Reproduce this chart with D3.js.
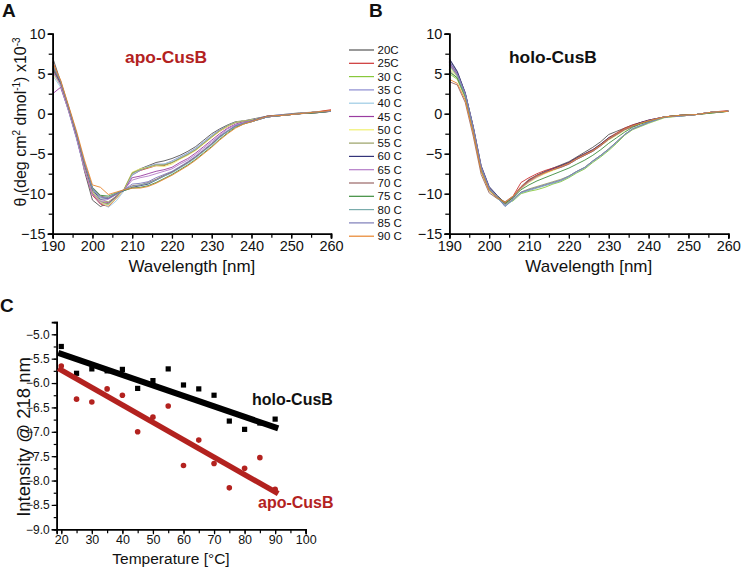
<!DOCTYPE html>
<html><head><meta charset="utf-8">
<script src="https://cdn.jsdelivr.net/npm/d3@7"></script>
<style>body{margin:0;background:#fff}svg{display:block}text{font-family:"Liberation Sans",Arial,sans-serif}</style>
</head><body>
<svg id="c" width="743" height="568"></svg>
<script>
// ---------- DATA ----------
const wavelengths = [190,192,194,196,198,200,202,204,206,208,210,212,214,216,218,220,222,224,226,228,230,232,234,236,238,240,244,248,252,256,260];
const temps = ["20C","25C","30 C","35 C","40 C","45 C","50 C","55 C","60 C","65 C","70 C","75 C","80 C","85 C","90 C"];
const seriesColors = ["#555555","#cc3333","#88c83c","#8c8cd0","#9ccbe4","#9a3ca0","#f0f070","#98a064","#34347a","#b47cc8","#9a6666","#3c8c3c","#7aacac","#7c7cb8","#e8842c"];
const apoSpectra = [
 [7.0,4.0,0.6,-2.8,-7.2,-10.8,-11.6,-11.2,-10.3,-9.4,-7.4,-6.9,-6.5,-6.1,-5.9,-5.6,-5.2,-4.7,-4.1,-3.3,-2.5,-1.9,-1.4,-1.0,-0.9,-0.7,-0.3,-0.1,0.1,0.2,0.4],
 [6.5,3.8,0.5,-2.9,-7.0,-10.2,-11.3,-11.6,-10.6,-9.5,-7.6,-7.1,-6.8,-6.5,-6.5,-6.1,-5.6,-5.1,-4.5,-3.7,-2.9,-2.2,-1.6,-1.1,-0.9,-0.8,-0.4,-0.2,0.0,0.2,0.5],
 [5.8,3.7,0.5,-3.0,-6.8,-9.9,-11.0,-11.3,-10.4,-9.4,-7.5,-7.0,-6.7,-6.4,-6.4,-6.1,-5.5,-5.0,-4.4,-3.6,-2.8,-2.1,-1.5,-1.1,-1.0,-0.8,-0.4,-0.2,0.0,0.2,0.3],
 [5.2,3.5,0.3,-3.1,-6.9,-10.0,-11.2,-11.4,-10.5,-9.5,-7.7,-7.1,-6.6,-6.3,-6.3,-5.9,-5.4,-4.9,-4.3,-3.5,-2.7,-2.0,-1.5,-1.1,-0.9,-0.8,-0.3,-0.1,0.0,0.2,0.3],
 [4.8,3.3,0.3,-3.2,-7.0,-9.8,-11.0,-11.7,-10.9,-9.6,-7.6,-7.0,-6.6,-6.4,-6.3,-6.0,-5.5,-5.0,-4.4,-3.6,-2.8,-2.1,-1.5,-1.1,-0.9,-0.8,-0.4,-0.2,0.0,0.2,0.3],
 [2.5,3.3,0.4,-3.0,-6.8,-9.9,-11.2,-11.1,-10.4,-9.5,-8.0,-7.8,-7.5,-7.2,-7.0,-6.7,-6.1,-5.6,-4.9,-4.1,-3.3,-2.5,-1.8,-1.3,-1.0,-0.9,-0.4,-0.2,0.0,0.2,0.3],
 [5.0,3.6,0.5,-2.8,-6.6,-9.8,-11.1,-11.5,-10.6,-9.4,-7.3,-6.9,-6.7,-6.5,-6.6,-6.3,-5.7,-5.2,-4.6,-3.8,-3.0,-2.2,-1.6,-1.1,-0.9,-0.8,-0.4,-0.2,0.0,0.2,0.3],
 [5.4,3.7,0.6,-2.8,-6.5,-9.7,-10.9,-11.0,-10.3,-9.4,-7.4,-7.0,-6.7,-6.4,-6.4,-6.1,-5.6,-5.1,-4.5,-3.7,-2.9,-2.1,-1.5,-1.1,-0.9,-0.8,-0.4,-0.2,0.0,0.2,0.3],
 [5.6,3.8,0.7,-2.6,-6.3,-9.5,-10.7,-10.6,-10.0,-9.6,-9.2,-9.0,-8.8,-8.3,-7.8,-7.3,-6.7,-6.1,-5.4,-4.6,-3.8,-2.9,-2.2,-1.5,-1.2,-0.9,-0.3,-0.2,0.0,0.1,0.3],
 [5.3,3.6,0.4,-3.0,-6.9,-10.1,-11.0,-10.7,-10.1,-9.5,-8.3,-8.0,-7.8,-7.5,-7.2,-6.9,-6.3,-5.8,-5.1,-4.3,-3.5,-2.7,-1.9,-1.4,-1.1,-0.9,-0.4,-0.2,0.0,0.2,0.3],
 [5.7,3.9,0.8,-2.6,-6.4,-9.3,-10.3,-10.5,-10.0,-9.5,-9.0,-8.9,-8.6,-8.2,-7.7,-7.3,-6.7,-6.1,-5.4,-4.6,-3.8,-2.9,-2.2,-1.6,-1.2,-1.0,-0.4,-0.2,0.0,0.1,0.3],
 [5.9,4.0,0.8,-2.5,-6.2,-9.2,-10.2,-10.3,-9.9,-9.6,-9.3,-9.2,-9.0,-8.6,-8.1,-7.6,-7.0,-6.4,-5.7,-4.9,-4.1,-3.2,-2.4,-1.7,-1.3,-1.0,-0.4,-0.2,0.0,0.1,0.3],
 [6.2,4.1,0.9,-2.4,-6.1,-9.4,-10.5,-10.4,-9.9,-9.5,-9.1,-8.9,-8.7,-8.3,-7.8,-7.4,-6.8,-6.2,-5.5,-4.7,-3.9,-3.0,-2.2,-1.6,-1.2,-1.0,-0.4,-0.2,0.0,0.2,0.3],
 [6.0,4.0,0.8,-2.5,-6.2,-9.3,-10.4,-10.6,-10.1,-9.5,-8.8,-8.7,-8.5,-8.0,-7.6,-7.2,-6.6,-6.0,-5.3,-4.5,-3.7,-2.8,-2.1,-1.5,-1.2,-1.0,-0.4,-0.2,0.0,0.2,0.3],
 [6.4,4.2,1.0,-2.2,-5.8,-8.9,-9.2,-10.1,-9.8,-9.5,-9.3,-9.3,-9.1,-8.7,-8.2,-7.7,-7.1,-6.5,-5.8,-5.0,-4.2,-3.3,-2.5,-1.8,-1.3,-1.0,-0.3,-0.2,0.0,0.2,0.4]
];
const holoSpectra = [
 [6.8,5.2,2.6,-1.6,-6.6,-9.2,-10.3,-11.1,-10.5,-9.2,-8.3,-7.7,-7.2,-6.8,-6.4,-6.0,-5.4,-4.8,-4.2,-3.5,-2.6,-2.2,-1.8,-1.4,-1.1,-0.9,-0.4,-0.2,-0.1,0.2,0.3],
 [6.2,4.8,2.4,-1.8,-6.8,-9.3,-10.5,-11.3,-10.3,-8.6,-8.0,-7.5,-7.1,-6.8,-6.5,-6.1,-5.5,-5.0,-4.5,-3.8,-3.0,-2.4,-1.8,-1.4,-1.1,-0.8,-0.4,-0.2,-0.1,0.2,0.4],
 [5.0,4.3,2.0,-2.2,-7.2,-9.6,-10.6,-11.3,-10.9,-10.0,-9.7,-9.5,-9.2,-8.8,-8.5,-8.0,-7.4,-6.9,-6.1,-5.4,-4.6,-3.7,-2.7,-2.0,-1.6,-1.2,-0.5,-0.3,-0.1,0.1,0.3],
 [6.6,5.0,2.5,-1.8,-6.8,-9.4,-10.5,-11.4,-10.5,-9.3,-8.5,-7.9,-7.4,-7.0,-6.6,-6.2,-5.6,-5.1,-4.6,-3.9,-3.2,-2.6,-2.0,-1.6,-1.2,-0.9,-0.4,-0.2,-0.1,0.2,0.3],
 [6.0,4.6,2.2,-2.0,-7.0,-9.5,-10.5,-11.6,-10.8,-9.9,-9.5,-9.2,-8.9,-8.6,-8.3,-7.8,-7.2,-6.7,-5.9,-5.2,-4.4,-3.5,-2.6,-1.9,-1.5,-1.1,-0.4,-0.3,-0.1,0.2,0.3],
 [6.4,5.0,2.4,-1.9,-6.9,-9.4,-10.4,-11.2,-10.4,-9.3,-8.4,-7.8,-7.3,-6.9,-6.6,-6.2,-5.6,-5.1,-4.6,-3.9,-3.1,-2.5,-1.9,-1.5,-1.2,-0.9,-0.4,-0.2,-0.1,0.2,0.3],
 [5.8,4.6,2.3,-1.9,-6.8,-9.3,-10.3,-11.1,-10.4,-9.4,-8.6,-8.0,-7.5,-7.1,-6.7,-6.3,-5.7,-5.2,-4.7,-4.0,-3.3,-2.7,-2.1,-1.6,-1.2,-0.9,-0.4,-0.2,-0.1,0.2,0.3],
 [5.5,4.4,2.1,-2.1,-7.1,-9.5,-10.5,-11.3,-10.7,-9.8,-9.4,-9.1,-8.8,-8.5,-8.2,-7.8,-7.2,-6.7,-5.9,-5.2,-4.4,-3.5,-2.6,-1.9,-1.5,-1.1,-0.4,-0.3,-0.1,0.1,0.3],
 [6.9,5.3,2.6,-1.6,-6.5,-9.1,-10.2,-11.2,-10.4,-9.2,-8.3,-7.7,-7.3,-6.9,-6.5,-6.1,-5.5,-5.0,-4.5,-3.8,-3.0,-2.5,-1.9,-1.5,-1.1,-0.8,-0.4,-0.2,-0.1,0.2,0.3],
 [6.3,4.9,2.4,-1.8,-6.7,-9.3,-10.4,-11.2,-10.4,-9.3,-8.5,-7.9,-7.4,-7.0,-6.7,-6.3,-5.7,-5.2,-4.7,-4.0,-3.2,-2.6,-2.0,-1.6,-1.2,-0.9,-0.4,-0.2,-0.1,0.2,0.3],
 [4.0,3.6,1.4,-2.8,-7.6,-9.9,-10.6,-11.0,-10.3,-9.1,-8.2,-7.7,-7.3,-7.0,-6.7,-6.3,-5.7,-5.2,-4.7,-4.0,-3.2,-2.6,-2.0,-1.6,-1.2,-0.9,-0.4,-0.2,-0.1,0.2,0.3],
 [5.2,4.5,2.2,-2.0,-6.9,-9.4,-10.4,-11.2,-10.5,-9.5,-8.9,-8.4,-8.0,-7.6,-7.2,-6.8,-6.3,-5.8,-5.2,-4.5,-3.7,-3.0,-2.3,-1.7,-1.3,-1.0,-0.4,-0.2,-0.1,0.1,0.3],
 [6.1,4.7,2.3,-1.9,-6.9,-9.4,-10.5,-11.5,-10.8,-9.9,-9.6,-9.3,-9.0,-8.7,-8.4,-7.9,-7.3,-6.8,-6.0,-5.3,-4.5,-3.6,-2.6,-1.9,-1.5,-1.1,-0.4,-0.3,-0.1,0.2,0.3],
 [6.5,5.0,2.5,-1.7,-6.7,-9.3,-10.4,-11.6,-10.7,-9.8,-9.5,-9.2,-8.9,-8.6,-8.3,-7.8,-7.2,-6.7,-5.9,-5.2,-4.4,-3.5,-2.6,-1.9,-1.5,-1.1,-0.4,-0.3,-0.1,0.2,0.3],
 [4.3,3.8,1.7,-2.4,-7.2,-9.6,-10.5,-11.1,-10.3,-9.2,-8.4,-7.8,-7.4,-7.0,-6.6,-6.2,-5.6,-5.1,-4.6,-3.9,-3.1,-2.5,-1.9,-1.5,-1.2,-0.9,-0.4,-0.2,-0.1,0.2,0.3]
];
const tempC = [20,25,30,35,40,45,50,55,60,65,70,75,80,85,90];
const holo218 = [-5.25,-5.80,-5.71,-5.75,-5.72,-6.11,-5.95,-5.71,-6.04,-6.12,-6.25,-6.78,-6.95,-6.82,-6.74];
const apo218  = [-5.65,-6.33,-6.39,-6.12,-6.25,-7.00,-6.70,-6.47,-7.69,-7.17,-7.65,-8.15,-7.75,-7.53,-8.18];
const fitTemps = [19, 91];
const holoFit = [-5.38, -6.93];
const apoFit  = [-5.70, -8.27];
const cdXTicks = [190,200,210,220,230,240,250,260];
const cdYTicks = [10,5,0,-5,-10,-15];
const tXTicks = [20,30,40,50,60,70,80,90,100];
const tYTicks = [-5.0,-5.5,-6.0,-6.5,-7.0,-7.5,-8.0,-8.5,-9.0];

// ---------- DRAW ----------
const svg = d3.select("#c");
const RED = "#b3221f";
const font = '"Liberation Sans",Arial,sans-serif';

function cdPanel(x0, x1, spectra, title, titleColor, titleX, showYLabel) {
  const x = d3.scaleLinear().domain([190,260]).range([x0,x1]);
  const y = d3.scaleLinear().domain([-15,10]).range([233.7,33.7]);
  const g = svg.append("g");
  const line = d3.line().x((d,i)=>x(wavelengths[i])).y(d=>y(d));
  spectra.forEach((s,i)=>{
    g.append("path").attr("d", line(s)).attr("fill","none")
      .attr("stroke", seriesColors[i]).attr("stroke-width",0.9);
  });
  const xa = d3.axisBottom(x).tickValues(d3.range(190,261,5)).tickSize(4).tickFormat("");
  g.append("g").attr("transform",`translate(0,${y(-15)})`).call(xa);
  const xb = d3.axisBottom(x).tickValues(cdXTicks).tickSize(5).tickPadding(2).tickFormat(d3.format("d"));
  const gx = g.append("g").attr("transform",`translate(0,${y(-15)})`).call(xb);
  gx.selectAll("text").attr("font-size",14.5).attr("font-family",font).attr("fill","#111");
  const ya = d3.axisLeft(y).tickValues(d3.range(-15,10.1,2.5)).tickSize(4).tickFormat("");
  g.append("g").attr("transform",`translate(${x0},0)`).call(ya);
  const yb = d3.axisLeft(y).tickValues(cdYTicks).tickSize(5).tickPadding(2).tickFormat(d3.format("d"));
  const gy = g.append("g").attr("transform",`translate(${x0},0)`).call(yb);
  gy.selectAll("text").attr("font-size",14.5).attr("font-family",font).attr("fill","#111");
  g.selectAll(".domain").attr("stroke","#000").attr("stroke-width",1.6);
  g.selectAll(".tick line").attr("stroke","#000").attr("stroke-width",1.2);
  g.append("text").attr("x",(x0+x1)/2).attr("y",272).attr("text-anchor","middle")
    .attr("font-size",17).attr("fill","#111").text("Wavelength [nm]");
  g.append("text").attr("x",titleX).attr("y",63).attr("font-size",17.4).attr("font-weight","bold")
    .attr("fill",titleColor).text(title);
  if (showYLabel) {
    const t = g.append("text").attr("transform","translate(26,122) rotate(-90)").attr("text-anchor","middle")
      .attr("font-size",16).attr("fill","#111");
    t.append("tspan").text("θ (deg cm");
    t.append("tspan").attr("font-size",10).attr("dy",-6).text("2");
    t.append("tspan").attr("dy",6).text(" dmol");
    t.append("tspan").attr("font-size",10).attr("dy",-6).text("-1");
    t.append("tspan").attr("dy",6).text(") x10");
    t.append("tspan").attr("font-size",10).attr("dy",-6).text("-3");
  }
}
cdPanel(52.7, 331, apoSpectra, "apo-CusB", RED, 125, true);
cdPanel(449.3, 728.3, holoSpectra, "holo-CusB", "#111", 509, false);

// legend
const lg = svg.append("g");
temps.forEach((t,i)=>{
  const yy = 50 + i*13.3;
  lg.append("line").attr("x1",349).attr("x2",374).attr("y1",yy).attr("y2",yy)
    .attr("stroke",seriesColors[i]).attr("stroke-width",1.2);
  lg.append("text").attr("x",377.5).attr("y",yy+4).attr("font-size",11.5).attr("fill","#111").text(t);
});

// panel letters
[["A",2,17],["B",369,17],["C",0,312]].forEach(([t,x,y])=>{
  svg.append("text").attr("x",x).attr("y",y).attr("font-size",19).attr("font-weight","bold").attr("fill","#111").text(t);
});

// panel C
(function(){
  const x = d3.scaleLinear().domain([18.5,100]).range([56.7,305.7]);
  const y = d3.scaleLinear().domain([-9.0,-4.75]).range([529.3,322.1]);
  const g = svg.append("g");
  const xm = d3.axisBottom(x).tickValues(d3.range(20,101,5)).tickSize(4).tickFormat("");
  g.append("g").attr("transform",`translate(0,${y(-9)})`).call(xm);
  const xa = d3.axisBottom(x).tickValues(tXTicks).tickSize(5).tickPadding(1).tickFormat(d3.format("d"));
  const gx = g.append("g").attr("transform",`translate(0,${y(-9)})`).call(xa);
  gx.selectAll("text").attr("font-size",12.5).attr("font-family",font).attr("fill","#111");
  const ym = d3.axisLeft(y).tickValues(d3.range(-9,-4.8,0.25)).tickSize(3).tickFormat("");
  g.append("g").attr("transform",`translate(${x.range()[0]},0)`).call(ym);
  const ya = d3.axisLeft(y).tickValues(tYTicks).tickSize(5).tickPadding(2).tickFormat(d3.format(".1f"));
  const gy = g.append("g").attr("transform",`translate(${x.range()[0]},0)`).call(ya);
  gy.selectAll("text").attr("font-size",12).attr("font-family",font).attr("fill","#111");
  g.selectAll(".domain").attr("stroke","#000").attr("stroke-width",1.6);
  g.selectAll(".tick line").attr("stroke","#000").attr("stroke-width",1.2);

  g.append("text").attr("x",171).attr("y",564).attr("text-anchor","middle").attr("font-size",15.5)
    .attr("fill","#111").text("Temperature [°C]");
  g.append("text").attr("transform","translate(30,437) rotate(-90)").attr("text-anchor","middle")
    .attr("font-size",18.5).attr("fill","#111").text("Intensity @ 218 nm");

  g.selectAll(".sq").data(tempC).enter().append("rect")
    .attr("x",(d)=>x(d)-2.6).attr("y",(d,i)=>y(holo218[i])-2.6).attr("width",5.2).attr("height",5.2).attr("fill","#000");
  g.selectAll(".ci").data(tempC).enter().append("circle")
    .attr("cx",d=>x(d)).attr("cy",(d,i)=>y(apo218[i])).attr("r",2.8).attr("fill",RED);
  const fl = d3.line().x((d,i)=>x(fitTemps[i])).y(d=>y(d));
  g.append("path").attr("d",fl(holoFit)).attr("stroke","#000").attr("stroke-width",6).attr("fill","none");
  g.append("path").attr("d",fl(apoFit)).attr("stroke",RED).attr("stroke-width",5.5).attr("fill","none");

  g.append("text").attr("x",252).attr("y",405).attr("font-size",16).attr("font-weight","bold").attr("fill","#111").text("holo-CusB");
  g.append("text").attr("x",258).attr("y",508).attr("font-size",16).attr("font-weight","bold").attr("fill",RED).text("apo-CusB");
})();
</script>
</body></html>
